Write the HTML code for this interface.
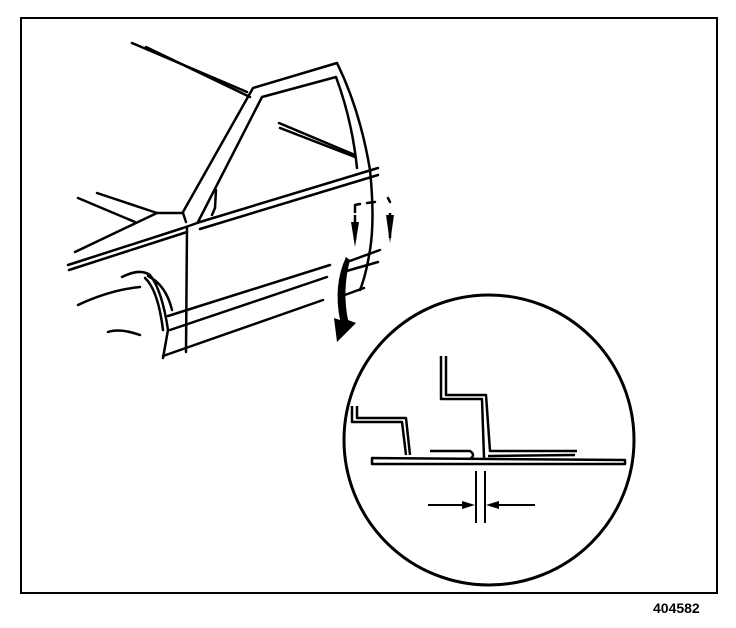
<!DOCTYPE html>
<html><head><style>
body{margin:0;background:#fff;width:736px;height:628px;overflow:hidden}
svg{display:block}
</style></head><body>
<svg width="736" height="628" viewBox="0 0 736 628" xmlns="http://www.w3.org/2000/svg">
<rect width="736" height="628" fill="#fff"/>
<rect x="21" y="18" width="696" height="575" fill="none" stroke="#000" stroke-width="2"/>
<g fill="none" stroke="#000" stroke-width="2.5" stroke-linecap="round" stroke-linejoin="round">
<path d="M132 43 L247 92"/>
<path d="M146 47 L250 97"/>
<path d="M183 212 L253 88 L337 63 Q360 110 370 170 Q375 220 370 250 Q366 275 360 290"/>
<path d="M198 222 L262 97 L336 77 Q352 120 357 168"/>
<path d="M212 215 L215 208 L216 190"/>
<path d="M279 123 L355 155"/>
<path d="M280 128 L355 157"/>
<path d="M200 222 L378 168"/>
<path d="M200 229 L378 175"/>
<path d="M68 265 L183 228 L200 222"/>
<path d="M69 270 L187 232"/>
<path d="M75 252 L157 213 L183 213 L186 222"/>
<path d="M78 198 L135 222"/>
<path d="M97 193 L157 213"/>
<path d="M187 228 L186 352"/>
<path d="M168 316 L330 265"/>
<path d="M170 330 L327 277"/>
<path d="M163 356 L323 300"/>
<path d="M122 277 Q140 268 150 275 Q162 290 168 330 L163 358"/>
<path d="M145 278 Q158 290 163 330"/>
<path d="M148 276 Q166 285 172 310"/>
<path d="M78 305 Q110 290 140 287"/>
<path d="M108 332 Q120 328 140 335"/>
<path d="M347 262 L380 250"/>
<path d="M343 272 L378 262"/>
<path d="M342 296 L364 288"/>
<path d="M355 205 L355 212 M355 205 L360 204 M367 203 L375 202 M388 198 L390 202"/>
</g>
<path d="M355 215 L355 240" stroke="#000" stroke-width="2.5"/>
<path d="M351 222 L359 222 L355 247 Z" fill="#000"/>
<path d="M390 213 L390 238" stroke="#000" stroke-width="2.5"/>
<path d="M386 215 L394 215 L390 243 Z" fill="#000"/>
<path d="M346 257 Q333 285 340 320 L334 318 L337 342 L356 323 L348 320 Q342 290 350 260 Z" fill="#000"/>
<circle cx="489" cy="440" r="145" fill="none" stroke="#000" stroke-width="3"/>
<g fill="none" stroke="#000" stroke-width="2.5" stroke-linejoin="round">
<path d="M352 406 L352 422 L402 422 L406 455"/>
<path d="M357 406 L357 418 L406 418 L410 455"/>
<path d="M372 458 L625 460 L625 464 L372 464 Z"/>
<path d="M430 451 L470 451 Q476 455 470 459"/>
<path d="M441 356 L441 399 L482 399 L484 458"/>
<path d="M446 356 L446 395 L486 395 L490 451 L577 451"/>
<path d="M488 456 L575 455"/>
</g>
<g stroke="#000" stroke-width="2">
<path d="M476 471 L476 523 M485 471 L485 523"/>
<path d="M428 505 L468 505 M495 505 L535 505"/>
</g>
<path d="M475 505 L462 501 L462 509 Z" fill="#000"/>
<path d="M486 505 L499 501 L499 509 Z" fill="#000"/>
<text x="653" y="613" font-family="Liberation Sans, sans-serif" font-size="14" font-weight="bold" fill="#000">404582</text>
</svg>
</body></html>
